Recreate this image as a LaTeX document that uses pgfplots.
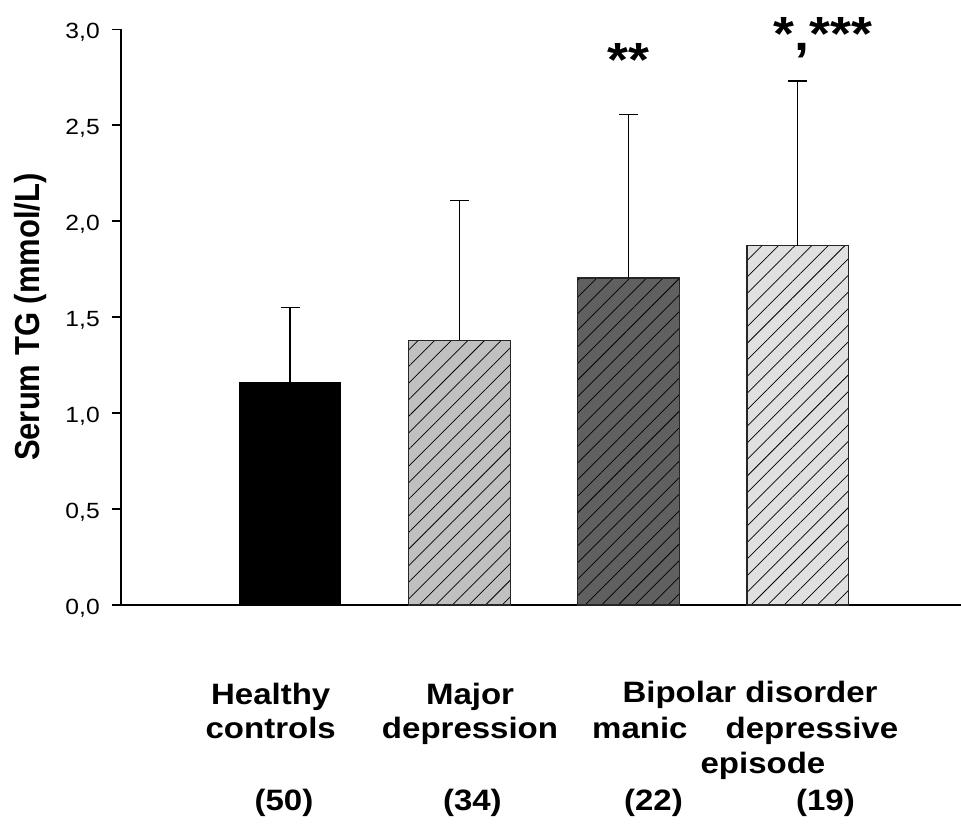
\documentclass[border=0pt]{standalone}
\usepackage{fontspec}
\setmainfont{Liberation Sans}
\newfontfamily\wide{Liberation Sans}[FakeStretch=1.12]
\usepackage{pgfplots}
\pgfplotsset{compat=1.18}
\usetikzlibrary{patterns.meta}

\definecolor{barA}{RGB}{0,0,0}
\definecolor{barB}{RGB}{192,192,192}
\definecolor{barC}{RGB}{96,96,96}
\definecolor{barD}{RGB}{224,224,224}

\tikzset{hatch/.style={postaction={pattern={Lines[angle=45,distance=8.8pt,line width=0.55pt]},pattern color=black}}}
\pgfplotsset{errs/.style={error bars/.cd, y dir=plus, y explicit,
    error bar style={line width=1.1pt,black},
    error mark options={rotate=90,mark size=7pt,line width=1.1pt,black}}}

\begin{document}
\begin{tikzpicture}
\useasboundingbox (-90.75pt,-165pt) rectangle (630pt,453.75pt);
\begin{axis}[
    at={(0,0)}, anchor=south west,
    width=630pt, height=431.8pt, scale only axis,
    xmin=0, xmax=4.965,
    ymin=0, ymax=3,
    axis x line=bottom, axis y line=left,
    axis line style={-,line width=1.1pt,black},
    ybar, bar width=0.6, bar shift=0pt,
    clip=false,
    ytick={0,0.5,...,3},
    ytick align=outside, xtick align=inside,
    major tick length=6.75pt,
    ytick style={line width=1.1pt,black},
    xtick style={draw=none},
    yticklabel style={font=\wide\fontsize{16.5}{18}\selectfont, anchor=base east, inner sep=0pt, xshift=-9pt, yshift=-6.9pt},
    /pgf/number format/fixed,
    /pgf/number format/fixed zerofill,
    /pgf/number format/precision=1,
    /pgf/number format/use comma,
    /pgf/number format/assume math mode=true,
    xtick={0.885,2.063,3.067,4.084},
    xticklabels={
        {\begin{tabular}{@{}c@{}}Healthy\\controls\end{tabular}},
        {\begin{tabular}{@{}c@{}}Major\\depression\end{tabular}},
        {\begin{tabular}{@{}c@{}}\\manic\end{tabular}},
        {\begin{tabular}{@{}c@{}}\\depressive\\\hspace*{-73.5pt}episode\end{tabular}}},
    xticklabel style={font=\wide\bfseries\fontsize{22.1}{25.9}\selectfont, anchor=north, inner sep=0pt, yshift=-56.1pt},
    extra x ticks={0.963,2.077,3.147,4.164},
    extra x tick labels={(50),(34),(22),(19)},
    extra x tick style={grid=none, tick style={draw=none}, xticklabel style={anchor=base, yshift=-97.65pt}},
    ylabel={\scalebox{1}[1.12]{Serum TG (mmol/L)}},
    ylabel style={font=\bfseries\fontsize{23.25}{26}\selectfont, at={(axis description cs:-0.0976,0.5)}, anchor=base, inner sep=0pt},
]
\addplot[fill=barA, draw=black, line width=0.8pt, errs]
    coordinates {(1,1.157) +- (0,0.394)};
\addplot[fill=barB, draw=black!85, line width=0.8pt, hatch, errs]
    coordinates {(2,1.379) +- (0,0.729)};
\addplot[fill=barC, draw=black!85, line width=0.8pt, hatch, errs]
    coordinates {(3,1.704) +- (0,0.851)};
\addplot[fill=barD, draw=black!85, line width=0.8pt, hatch, errs]
    coordinates {(4,1.873) +- (0,0.857)};

\node[font=\wide\bfseries\fontsize{22.1}{25.9}\selectfont, anchor=base, yshift=-72.75pt] at (axis cs:3.718,0) {Bipolar disorder};
\node[font=\wide\bfseries\fontsize{36}{40}\selectfont, anchor=base] at (axis cs:3,2.753) {**};
\node[font=\wide\bfseries\fontsize{36}{40}\selectfont, anchor=base] at (axis cs:4.149,2.887) {*,***};
\end{axis}
\end{tikzpicture}
\end{document}
